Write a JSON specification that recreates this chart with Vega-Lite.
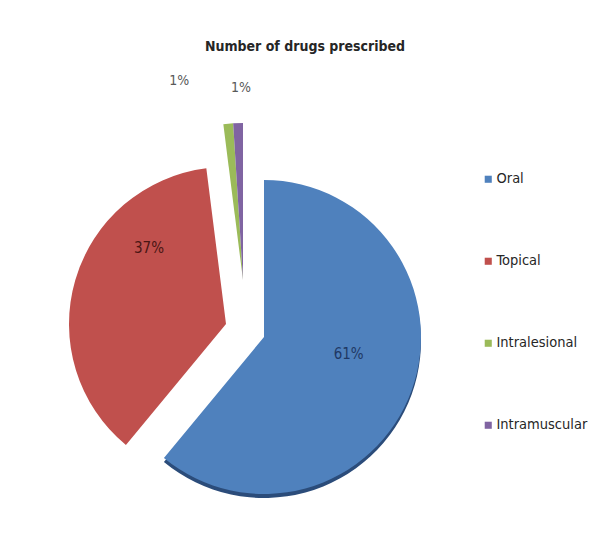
{
  "$schema": "https://vega.github.io/schema/vega-lite/v6.json",
  "autosize": "none",
  "width": 470,
  "height": 420,
  "padding": {"left": 10, "top": 120, "right": 120, "bottom": 6},
  "background": "white",
  "title": {
    "text": "Number of drugs prescribed",
    "dx": 60,
    "offset": 19,
    "fontSize": 14,
    "font": "'DejaVu Sans Condensed', 'Liberation Sans', sans-serif",
    "fontWeight": "bold",
    "color": "#262626"
  },
  "data": {
    "values": [
      {"route": "Oral", "share": 61},
      {"route": "Topical", "share": 37},
      {"route": "Intralesional", "share": 1},
      {"route": "Intramuscular", "share": 1}
    ]
  },
  "transform": [
    {"window": [{"op": "row_number", "as": "rank"}]},
    {"calculate": "datum.share + '%'", "as": "label"}
  ],
  "encoding": {
    "theta": {"field": "share", "type": "quantitative", "stack": true},
    "order": {"field": "rank", "type": "quantitative"},
    "color": {
      "field": "route",
      "type": "nominal",
      "scale": {
        "domain": ["Oral", "Topical", "Intralesional", "Intramuscular"],
        "range": ["#4f81bd", "#c0504d", "#9bbb59", "#8064a2"]
      },
      "legend": {
        "orient": "none",
        "legendX": 471,
        "legendY": 52,
        "title": null,
        "padding": 0,
        "symbolType": "square",
        "symbolSize": 50,
        "symbolOpacity": 1,
        "symbolStrokeWidth": 0,
        "labelFont": "'DejaVu Sans Condensed', 'Liberation Sans', sans-serif",
        "labelFontSize": 14.5,
        "labelColor": "#262626",
        "labelOffset": 1,
        "rowPadding": 67
      }
    }
  },
  "layer": [
    {
      "mark": {"type": "arc", "outerRadius": 157, "xOffset": 19, "yOffset": 11},
      "encoding": {
        "color": {"value": "#2b4c7a"},
        "opacity": {"condition": {"test": "datum.route === 'Oral'", "value": 1}, "value": 0}
      }
    },
    {
      "mark": {"type": "arc", "outerRadius": 157, "xOffset": 19, "yOffset": 7},
      "encoding": {
        "opacity": {"condition": {"test": "datum.route === 'Oral'", "value": 1}, "value": 0}
      }
    },
    {
      "mark": {"type": "arc", "outerRadius": 157, "xOffset": -19, "yOffset": -6},
      "encoding": {
        "opacity": {"condition": {"test": "datum.route === 'Topical'", "value": 1}, "value": 0}
      }
    },
    {
      "mark": {"type": "arc", "outerRadius": 157, "xOffset": -2, "yOffset": -50},
      "encoding": {
        "opacity": {"condition": {"test": "datum.share < 5", "value": 1}, "value": 0}
      }
    },
    {
      "mark": {"type": "text", "radius": 90, "xOffset": 19, "yOffset": -6, "font": "'DejaVu Sans Condensed', 'Liberation Sans', sans-serif", "fontSize": 15},
      "encoding": {
        "text": {"field": "label"},
        "color": {"value": "#1f3864"},
        "opacity": {"condition": {"test": "datum.route === 'Oral'", "value": 1}, "value": 0}
      }
    },
    {
      "mark": {"type": "text", "radius": 100, "xOffset": 0, "yOffset": -54, "font": "'DejaVu Sans Condensed', 'Liberation Sans', sans-serif", "fontSize": 15},
      "encoding": {
        "text": {"field": "label"},
        "color": {"value": "#4a1614"},
        "opacity": {"condition": {"test": "datum.route === 'Topical'", "value": 1}, "value": 0}
      }
    },
    {
      "mark": {"type": "text", "radius": 200, "xOffset": -47, "yOffset": -50, "font": "'DejaVu Sans Condensed', 'Liberation Sans', sans-serif", "fontSize": 14},
      "encoding": {
        "text": {"field": "label"},
        "color": {"value": "#595959"},
        "opacity": {"condition": {"test": "datum.route === 'Intralesional'", "value": 1}, "value": 0}
      }
    },
    {
      "mark": {"type": "text", "radius": 192, "xOffset": 2, "yOffset": -50, "font": "'DejaVu Sans Condensed', 'Liberation Sans', sans-serif", "fontSize": 14},
      "encoding": {
        "text": {"field": "label"},
        "color": {"value": "#595959"},
        "opacity": {"condition": {"test": "datum.route === 'Intramuscular'", "value": 1}, "value": 0}
      }
    }
  ],
  "config": {"view": {"stroke": null}}
}
